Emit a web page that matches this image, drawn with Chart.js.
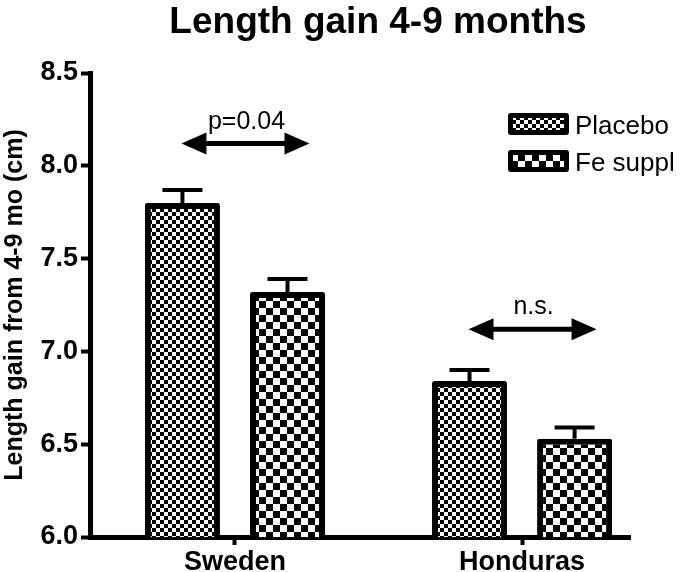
<!DOCTYPE html>
<html>
<head>
<meta charset="utf-8">
<script src="https://cdn.jsdelivr.net/npm/chart.js@4.4.0/dist/chart.umd.min.js"></script>
<style>
  html, body { margin: 0; padding: 0; background: #fff; }
  #wrap { width: 681px; height: 572px; }
</style>
</head>
<body>
<div id="wrap"><canvas id="grafico"></canvas></div>
<script>
var paises = ['Sweden', 'Honduras'];
var placebo = [7.80, 6.84];
var placeboErro = [0.07, 0.06];
var ferro = [7.32, 6.53];
var ferroErro = [0.07, 0.06];
var yTicks = [6.0, 6.5, 7.0, 7.5, 8.0, 8.5];
var notas = ['p=0.04', 'n.s.'];
var notasY = [8.12, 7.12];

var F = "'Liberation Sans', Arial, sans-serif";

// checkerboard fill
function xadrez(cel) {
  var c = document.createElement('canvas');
  c.width = cel * 2; c.height = cel * 2;
  var g = c.getContext('2d');
  g.fillStyle = '#fff';
  g.fillRect(0, 0, cel * 2, cel * 2);
  g.fillStyle = '#000';
  g.fillRect(0, 0, cel, cel);
  g.fillRect(cel, cel, cel, cel);
  return document.createElement('canvas').getContext('2d').createPattern(c, 'repeat');
}
var padraoPlacebo = xadrez(4);
var padraoFerro = xadrez(7);

function pontos(vals) {
  return vals.map(function (v, i) { return { x: i, y: v }; });
}

function seta(ctx, x1, x2, y) {
  var hl = 25, hh = 11;
  ctx.save();
  ctx.strokeStyle = '#000';
  ctx.fillStyle = '#000';
  ctx.lineWidth = 5;
  ctx.beginPath();
  ctx.moveTo(x1 + hl - 4, y);
  ctx.lineTo(x2 - hl + 4, y);
  ctx.stroke();
  ctx.beginPath();
  ctx.moveTo(x1, y); ctx.lineTo(x1 + hl, y - hh); ctx.lineTo(x1 + hl, y + hh); ctx.closePath();
  ctx.fill();
  ctx.beginPath();
  ctx.moveTo(x2, y); ctx.lineTo(x2 - hl, y - hh); ctx.lineTo(x2 - hl, y + hh); ctx.closePath();
  ctx.fill();
  ctx.restore();
}

var extras = {
  id: 'extras',
  afterDatasetsDraw: function (chart) {
    var ctx = chart.ctx;
    var ys = chart.scales.y;
    var erros = [placeboErro, ferroErro];
    // title
    ctx.save();
    ctx.fillStyle = '#000';
    ctx.font = 'bold 37px ' + F;
    ctx.textAlign = 'center';
    ctx.textBaseline = 'alphabetic';
    ctx.fillText('Length gain 4-9 months', 378, 33);
    ctx.restore();
    // error bars (upper only)
    chart.data.datasets.forEach(function (ds, di) {
      var meta = chart.getDatasetMeta(di);
      meta.data.forEach(function (bar, i) {
        var topo = ys.getPixelForValue(ds.data[i].y + erros[di][i]);
        ctx.save();
        ctx.strokeStyle = '#000';
        ctx.lineWidth = 4;
        ctx.beginPath();
        ctx.moveTo(bar.x, bar.y);
        ctx.lineTo(bar.x, topo);
        ctx.moveTo(bar.x - 20, topo);
        ctx.lineTo(bar.x + 20, topo);
        ctx.stroke();
        ctx.restore();
      });
    });
    // significance arrows
    var m0 = chart.getDatasetMeta(0), m1 = chart.getDatasetMeta(1);
    notas.forEach(function (txt, i) {
      var x1 = m0.data[i].x - 1;
      var x2 = m1.data[i].x + 22;
      var y = ys.getPixelForValue(notasY[i]);
      seta(ctx, x1, x2, y);
      ctx.save();
      ctx.fillStyle = '#000';
      ctx.font = '25px ' + F;
      ctx.textAlign = 'center';
      ctx.textBaseline = 'alphabetic';
      ctx.fillText(txt, (x1 + x2) / 2 + 1, y - 15);
      ctx.restore();
    });
    // legend
    var lx = 508, ly = [113, 150];
    chart.data.datasets.forEach(function (ds, di) {
      var y = ly[di];
      ctx.save();
      ctx.fillStyle = '#000';
      ctx.beginPath();
      ctx.roundRect(lx, y, 61, 22, 3);
      ctx.fill();
      ctx.fillStyle = ds.backgroundColor;
      ctx.fillRect(lx + 5, y + 5, 51, 12);
      ctx.fillStyle = '#000';
      ctx.font = '26px ' + F;
      ctx.textBaseline = 'alphabetic';
      ctx.fillText(ds.label, lx + 67, y + 21);
      ctx.restore();
    });
  }
};

new Chart(document.getElementById('grafico'), {
  type: 'bar',
  data: {
    datasets: [{
      label: 'Placebo',
      data: pontos(placebo),
      backgroundColor: padraoPlacebo,
      borderColor: '#000',
      borderWidth: 6,
      borderRadius: 2,
      categoryPercentage: 0.732,
      barPercentage: 0.714
    }, {
      label: 'Fe suppl',
      data: pontos(ferro),
      backgroundColor: padraoFerro,
      borderColor: '#000',
      borderWidth: 6,
      borderRadius: 2,
      categoryPercentage: 0.732,
      barPercentage: 0.714
    }]
  },
  options: {
    responsive: true,
    maintainAspectRatio: false,
    animation: false,
    layout: { padding: { left: 0, right: 51, top: 73, bottom: 0 } },
    plugins: {
      legend: { display: false },
      tooltip: { enabled: false },
      title: { display: false }
    },
    scales: {
      x: {
        type: 'linear',
        offset: false,
        min: -0.505,
        max: 1.376,
        afterBuildTicks: function (s) { s.ticks = paises.map(function (p, i) { return { value: i }; }); },
        afterFit: function (s) { s.height = 35; },
        ticks: {
          color: '#000',
          padding: 1,
          maxRotation: 0,
          font: { family: F, size: 27, weight: 'bold' },
          callback: function (v) { return paises[v]; }
        },
        grid: { offset: false, drawOnChartArea: false, drawTicks: true, tickLength: 8, tickWidth: 4, color: '#000' },
        border: { color: '#000', width: 5 }
      },
      y: {
        min: 6,
        max: 8.5,
        afterBuildTicks: function (s) { s.ticks = yTicks.map(function (v) { return { value: v }; }); },
        afterFit: function (s) { s.width = 90; },
        ticks: {
          color: '#000',
          padding: 3,
          font: { family: F, size: 27, weight: 'bold' },
          callback: function (v) { return v.toFixed(1); }
        },
        title: {
          display: true,
          text: 'Length gain from 4-9 mo (cm)',
          color: '#000',
          font: { family: F, size: 25, weight: 'bold' },
          padding: 0
        },
        grid: { drawOnChartArea: false, drawTicks: true, tickLength: 9, tickWidth: 4, color: '#000' },
        border: { color: '#000', width: 5 }
      }
    }
  },
  plugins: [extras]
});
</script>
</body>
</html>
